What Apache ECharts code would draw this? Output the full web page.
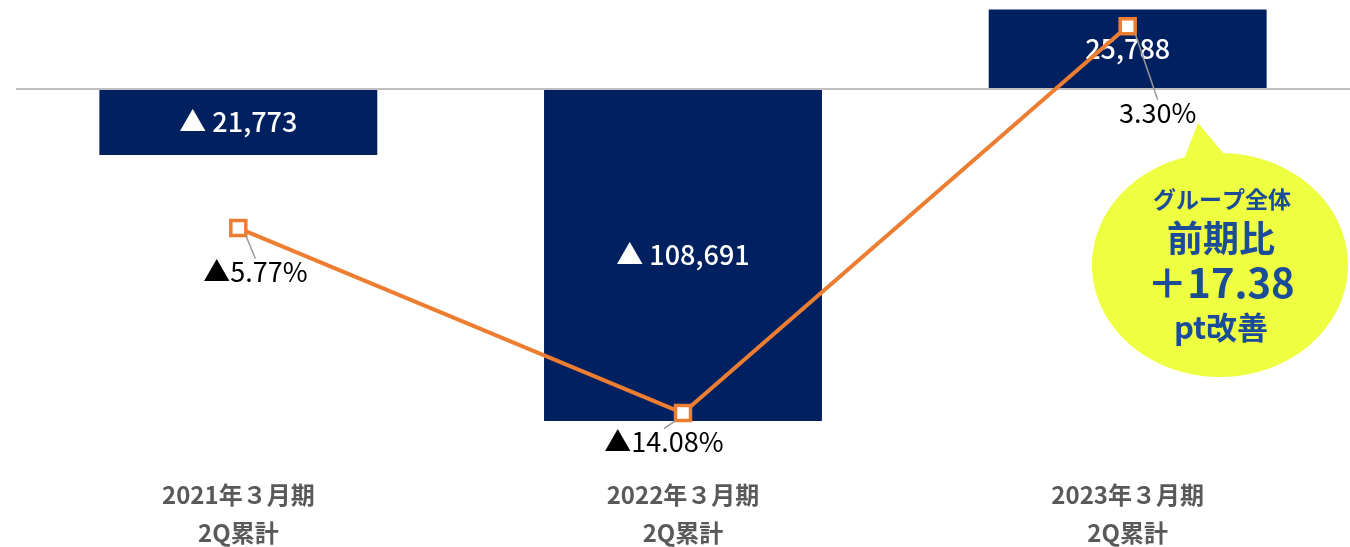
<!DOCTYPE html>
<html><head><meta charset="utf-8">
<script src="https://cdn.jsdelivr.net/npm/echarts@6/dist/echarts.min.js"></script>
<style>html,body{margin:0;padding:0;background:#fff}#c{width:1350px;height:547px}</style>
</head><body><div id="c"></div>
<script>
var categories = ['2021年３月期\n2Q累計', '2022年３月期\n2Q累計', '2023年３月期\n2Q累計'];
var barValues = [-21773, -108691, 25788];
var ratioValues = [-5.77, -14.08, 3.30];
var labelOffsets = [[17, 44], [-19, 29], [30, 87]];

var FONT = '"Noto Sans CJK JP", "Noto Sans", sans-serif';
function fmtBar(v){ var s = Math.abs(v).toLocaleString('en-US'); return v < 0 ? '▲ ' + s : s; }
function fmtPct(v){ var s = Math.abs(v).toFixed(2) + '%'; return v < 0 ? '▲' + s : s; }

var chart = echarts.init(document.getElementById('c'));
chart.setOption({
  animation: false,
  grid: { left: 16, right: 0, top: 0, height: 460, outerBoundsMode: 'none', containLabel: false },
  xAxis: {
    type: 'category', data: categories,
    axisLine: { show: false }, axisTick: { show: false },
    axisLabel: { margin: 16, color: '#595959', fontSize: 24, fontWeight: 'bold', lineHeight: 38, fontFamily: FONT }
  },
  yAxis: [
    { type: 'value', min: -121400, max: 28900, show: false, splitLine: { show: false } },
    { type: 'value', min: -16.19, max: 4.474, show: false, splitLine: { show: false } }
  ],
  series: [
    {
      type: 'bar', data: barValues, barWidth: '62.5%', yAxisIndex: 0,
      itemStyle: { color: '#002060' },
      label: { show: true, position: 'inside', color: '#fff', fontSize: 27, fontWeight: 500, fontFamily: FONT,
        formatter: function(p){ return fmtBar(p.value); } },
      markLine: { silent: true, symbol: 'none', label: { show: false },
        lineStyle: { color: '#bfbfbf', width: 2, type: 'solid' }, data: [{ yAxis: 0 }] }
    },
    {
      type: 'line', data: ratioValues, yAxisIndex: 1,
      lineStyle: { color: '#ED7D31', width: 4 },
      symbol: 'rect', symbolSize: 15,
      itemStyle: { color: '#fff', borderColor: '#ED7D31', borderWidth: 3.5 },
      label: { show: true, position: 'inside', color: '#000', fontSize: 27, fontFamily: FONT,
        formatter: function(p){ return fmtPct(p.value); } },
      labelLine: { show: true, showAbove: true, lineStyle: { color: '#999', width: 1.5 } },
      labelLayout: function(p){ var o = labelOffsets[p.dataIndex]; return { dx: o[0], dy: o[1] }; },
      z: 5
    }
  ],
  graphic: [
    { type: 'polygon', shape: { points: [[1198, 123], [1172, 190], [1242, 175]] }, style: { fill: '#EEFF41' }, z: 10 },
    { type: 'ellipse', shape: { cx: 1220, cy: 265, rx: 128, ry: 112 }, style: { fill: '#EEFF41' }, z: 10 },
    { type: 'text', x: 1222, y: 199, style: { text: 'グループ全体', fill: '#1B4C9A', font: 'bold 23px ' + FONT, align: 'center', verticalAlign: 'middle' }, z: 11 },
    { type: 'text', x: 1221, y: 238, style: { text: '前期比', fill: '#1B4C9A', font: 'bold 36px ' + FONT, align: 'center', verticalAlign: 'middle' }, z: 11 },
    { type: 'text', x: 1221, y: 283, style: { text: '＋17.38', fill: '#1B4C9A', font: 'bold 40px ' + FONT, align: 'center', verticalAlign: 'middle' }, z: 11 },
    { type: 'text', x: 1221, y: 327, style: { text: 'pt改善', fill: '#1B4C9A', font: 'bold 31px ' + FONT, align: 'center', verticalAlign: 'middle' }, z: 11 }
  ]
});
</script></body></html>
